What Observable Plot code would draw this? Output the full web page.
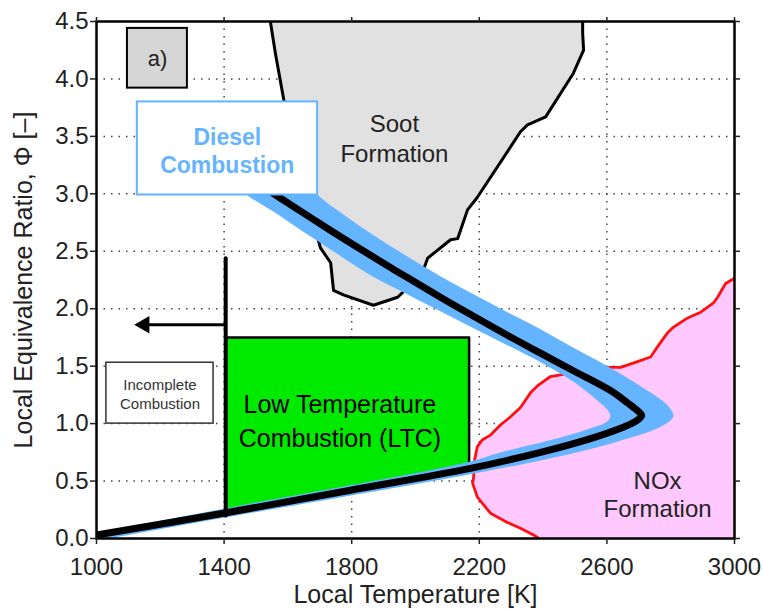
<!DOCTYPE html>
<html>
<head>
<meta charset="utf-8">
<script src="https://cdn.jsdelivr.net/npm/d3@7"></script>
<script src="https://cdn.jsdelivr.net/npm/@observablehq/plot@0.6"></script>
<style>
  html, body { margin: 0; padding: 0; background: #fff; }
  #chart svg { display: block; }
</style>
</head>
<body>
<div id="chart"></div>
<script>
// ---- tick values ----
const xTicks = [1000, 1400, 1800, 2200, 2600, 3000];
const yTicks = [0, 0.5, 1, 1.5, 2, 2.5, 3, 3.5, 4, 4.5];
const xGrid = [1400, 1800, 2200, 2600];
const yGrid = [0.5, 1, 1.5, 2, 2.5, 3, 3.5, 4];

// ---- soot formation region boundary [T, phi] ----
const sootBoundary = [
  [1545, 4.5], [1561, 4.22], [1587, 3.82], [1610, 3.50], [1640, 3.15], [1670, 2.85],
  [1702, 2.53], [1734, 2.40], [1743, 2.16], [1774, 2.12], [1868, 2.03], [1944, 2.10],
  [1990, 2.22], [2025, 2.34], [2038, 2.44], [2110, 2.60], [2132, 2.61], [2163, 2.86],
  [2194, 2.97], [2329, 3.54], [2351, 3.60], [2408, 3.67], [2495, 4.05], [2527, 4.25],
  [2524, 4.40], [2524, 4.5]
];

// ---- NOx formation region boundary [T, phi] ----
const noxBoundary = [
  [3000, 2.265], [2972, 2.22], [2947, 2.10], [2934, 2.05], [2894, 1.97], [2853, 1.92],
  [2809, 1.84], [2790, 1.79], [2759, 1.67], [2737, 1.58], [2696, 1.54], [2643, 1.49],
  [2589, 1.49], [2558, 1.48], [2508, 1.45], [2423, 1.41], [2383, 1.33], [2361, 1.27],
  [2329, 1.14], [2298, 1.06], [2267, 0.99], [2235, 0.90], [2210, 0.86], [2194, 0.80],
  [2185, 0.68], [2182, 0.53], [2179, 0.48], [2194, 0.36], [2235, 0.22], [2288, 0.14],
  [2329, 0.09], [2370, 0.03], [2383, 0.01]
];
const noxCorners = [[2385, 0], [3000, 0]];

// ---- diesel combustion path [T, phi] ----
const dieselPath = [
  [1000, 0.03], [1398, 0.22], [1796, 0.42], [2172, 0.61], [2392, 0.75], [2549, 0.87],
  [2643, 0.96], [2690, 1.02], [2709, 1.07], [2695, 1.115], [2665, 1.18], [2610, 1.29],
  [2495, 1.46], [2392, 1.613], [2288, 1.769], [2185, 1.93], [2078, 2.10], [1969, 2.28],
  [1859, 2.465], [1734, 2.681], [1577, 2.962], [1483, 3.134]
];
// band around the path: outer edge then inner edge
const dieselBandOuter = [
  [1000, -0.02], [1398, 0.18], [2172, 0.56], [2392, 0.68], [2549, 0.78], [2652, 0.86],
  [2759, 0.96], [2800, 1.03], [2809, 1.07], [2793, 1.15], [2737, 1.27], [2602, 1.50],
  [2495, 1.661], [2392, 1.822], [2288, 1.97], [2185, 2.122], [2078, 2.283], [1969, 2.463],
  [1859, 2.656], [1734, 2.899], [1577, 3.205]
];
const dieselBandInner = [
  [1445, 3.08], [1577, 2.805], [1734, 2.516], [1859, 2.291], [1969, 2.132], [2078, 1.978],
  [2185, 1.826], [2288, 1.682], [2392, 1.534], [2495, 1.365], [2571, 1.20], [2602, 1.12],
  [2611, 1.06], [2596, 1.01], [2549, 0.96], [2455, 0.88], [2267, 0.75], [2172, 0.67],
  [1398, 0.26], [1000, 0.05]
];

// ---- LTC region and incomplete-combustion limit ----
const ltcRegion = [[1405, 1.75], [2168, 1.75], [2168, 0.605], [1405, 0.215]];
const incompleteLimit = [[1405, 0.2], [1405, 2.44]];
const arrowShaft = [[1405, 1.86], [1150, 1.86]];
const arrowHead = [[1150, 1.86]];

// ---- boxes [x1, x2, y1, y2] ----
const panelBox = [[1097, 1285, 3.92, 4.44]];
const dieselBox = [[1128, 1693, 2.99, 3.80]];
const incompleteBox = [[1031, 1367, 1.0, 1.53]];

// ---- labels ----
const panelLabel = [{text: "a)", x: 1191, y: 4.17}];
const dieselLabel = [{text: "Diesel\nCombustion", x: 1410, y: 3.385}];
const incompleteLabel = [{text: "Incomplete\nCombustion", x: 1199, y: 1.265}];
const sootLabel = [{text: "Soot\nFormation", x: 1934, y: 3.49}];
const ltcLabel = [{text: "Low Temperature\nCombustion (LTC)", x: 1763, y: 1.04}];
const noxLabel = [{text: "NOx\nFormation", x: 2759, y: 0.39}];
const xLabel = ["Local Temperature [K]"];
const yLabel = ["Local Equivalence Ratio, Φ [–]"];

const bandPolygon = dieselBandOuter.concat(dieselBandInner);
const noxPolygon = noxBoundary.concat(noxCorners);
const FONT = "'Liberation Sans', Arial, Helvetica, sans-serif";
const rectOpts = {x1: d => d[0], x2: d => d[1], y1: d => d[2], y2: d => d[3]};

const chart = Plot.plot({
  width: 763,
  height: 609,
  marginLeft: 96,
  marginRight: 29,
  marginTop: 21,
  marginBottom: 71,
  style: {fontFamily: FONT, fontSize: "24px", color: "#222", background: "white"},
  x: {domain: [1000, 3000]},
  y: {domain: [0, 4.5]},
  marks: [
    Plot.gridX(xGrid, {stroke: "#444", strokeOpacity: 1, strokeWidth: 1.5, strokeDasharray: "1.5 6"}),
    Plot.gridY(yGrid, {stroke: "#444", strokeOpacity: 1, strokeWidth: 1.5, strokeDasharray: "1.5 6"}),
    // soot region
    Plot.line(sootBoundary, {x: d => d[0], y: d => d[1], fill: "#e1e1e1", stroke: "black", strokeWidth: 3, clip: true}),
    // NOx region
    Plot.line(noxPolygon, {x: d => d[0], y: d => d[1], fill: "#ffc9ff", stroke: "none", clip: true}),
    Plot.line(noxBoundary, {x: d => d[0], y: d => d[1], stroke: "#ff1010", strokeWidth: 2.8, clip: true}),
    // LTC region
    Plot.line(ltcRegion, {x: d => d[0], y: d => d[1], fill: "#00ea00", stroke: "black", strokeWidth: 2.5}),
    // diesel band and path
    Plot.line(bandPolygon, {x: d => d[0], y: d => d[1], fill: "#64b4ff", stroke: "none", curve: "catmull-rom", clip: true}),
    Plot.line(dieselPath, {x: d => d[0], y: d => d[1], stroke: "black", strokeWidth: 7, curve: "catmull-rom", clip: true}),
    // incomplete combustion limit and arrow
    Plot.line(incompleteLimit, {x: d => d[0], y: d => d[1], stroke: "black", strokeWidth: 4}),
    Plot.line(arrowShaft, {x: d => d[0], y: d => d[1], stroke: "black", strokeWidth: 3}),
    Plot.dot(arrowHead, {x: d => d[0], y: d => d[1], symbol: "triangle", r: 6.5, rotate: -90, fill: "black", stroke: "none"}),
    // boxes
    Plot.rect(panelBox, {...rectOpts, fill: "#d6d6d6", stroke: "black", strokeWidth: 2}),
    Plot.rect(dieselBox, {...rectOpts, fill: "white", stroke: "#64b4ff", strokeWidth: 2}),
    Plot.rect(incompleteBox, {...rectOpts, fill: "white", stroke: "#333", strokeWidth: 1.5}),
    // labels
    Plot.text(panelLabel, {x: "x", y: "y", text: "text", fontSize: 22, fill: "#222"}),
    Plot.text(dieselLabel, {x: "x", y: "y", text: "text", fontSize: 23, fontWeight: "bold", fill: "#64b4ff", lineHeight: 1.22}),
    Plot.text(incompleteLabel, {x: "x", y: "y", text: "text", fontSize: 15, fill: "#333", lineHeight: 1.3}),
    Plot.text(sootLabel, {x: "x", y: "y", text: "text", fontSize: 24, fill: "#222", lineHeight: 1.25}),
    Plot.text(ltcLabel, {x: "x", y: "y", text: "text", fontSize: 25, fill: "black", lineHeight: 1.35}),
    Plot.text(noxLabel, {x: "x", y: "y", text: "text", fontSize: 24, fill: "#222", lineHeight: 1.2}),
    // frame and axes
    Plot.frame({stroke: "black", strokeWidth: 2.5}),
    Plot.axisX({ticks: xTicks, tickSize: 6, tickPadding: 13, fontSize: 24, label: null, tickFormat: d => String(d), strokeWidth: 1.5}),
    Plot.axisX({anchor: "top", ticks: xTicks, tickSize: 5, label: null, tickFormat: () => "", strokeWidth: 1.5}),
    Plot.axisY({ticks: yTicks, tickSize: 6, tickPadding: 2, fontSize: 24, label: null, tickFormat: d3.format(".1f"), strokeWidth: 1.5}),
    Plot.axisY({anchor: "right", ticks: yTicks, tickSize: 5, label: null, tickFormat: () => "", strokeWidth: 1.5}),
    Plot.text(xLabel, {frameAnchor: "bottom", dy: 56, fontSize: 25, fill: "#222", textAnchor: "middle", lineAnchor: "middle"}),
    Plot.text(yLabel, {frameAnchor: "left", dx: -73, rotate: -90, fontSize: 25, fill: "#222", textAnchor: "middle", lineAnchor: "middle"})
  ]
});
document.getElementById("chart").appendChild(chart);
</script>
</body>
</html>
